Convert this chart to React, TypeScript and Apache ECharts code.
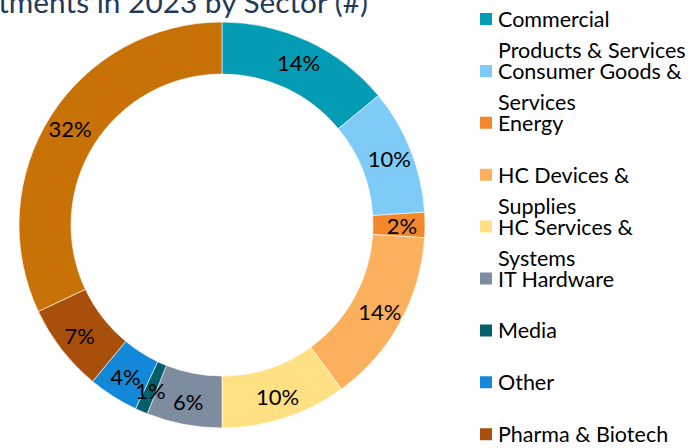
import React, { useEffect, useRef } from "react";
import * as echarts from "echarts";

const titleText = "Investments in 2023 by Sector (#)";
const categories = [
  "Commercial\nProducts & Services",
  "Consumer Goods &\nServices",
  "Energy",
  "HC Devices &\nSupplies",
  "HC Services &\nSystems",
  "IT Hardware",
  "Media",
  "Other",
  "Pharma & Biotech",
  "Software",
];
const values = [14, 10, 2, 14, 10, 6, 1, 4, 7, 32];
const colors = [
  "#049BB4",
  "#7ECBF7",
  "#F2882B",
  "#FBB05E",
  "#FFE184",
  "#7E8CA0",
  "#045F6A",
  "#1488D8",
  "#A8500B",
  "#C87106",
];

const FONT = "Lato, 'Liberation Sans', sans-serif";

export default function App() {
  const ref = useRef<HTMLDivElement>(null);
  useEffect(() => {
    if (!ref.current) return;
    const chart = echarts.init(ref.current, null, { renderer: "svg" });
    const lh = 31;
    chart.setOption({
      animation: false,
      backgroundColor: "#ffffff",
      graphic: [
        {
          type: "text",
          style: {
            text: titleText,
            x: 368,
            y: 16,
            align: "right",
            verticalAlign: "bottom",
            font: `29.8px ${FONT}`,
            fill: "#1F3A5C",
          },
        },
      ],
      legend: {
        orient: "vertical",
        left: 478,
        top: 19 - (3 * lh) / 2,
        height: 2000,
        padding: 0,
        itemGap: 51.9 - 3 * lh,
        itemWidth: 14,
        itemHeight: 14,
        icon: "rect",
        selectedMode: false,
        data: categories,
        formatter: (name: string) => {
          const parts = name.split("\n");
          return ` \n${parts[0]}\n${parts[1] || " "}`;
        },
        textStyle: {
          fontFamily: FONT,
          fontSize: 21.5,
          lineHeight: lh,
          color: "#000000",
        },
      },
      series: [
        {
          type: "pie",
          center: [222, 225],
          radius: [151, 203],
          startAngle: 90,
          clockwise: true,
          avoidLabelOverlap: false,
          minShowLabelAngle: 0,
          labelLayout: { hideOverlap: false },
          itemStyle: { borderColor: "#ffffff", borderWidth: 0.6 },
          label: {
            show: true,
            position: "inside",
            formatter: (p: any) => `${p.value}%`,
            fontFamily: FONT,
            fontSize: 22,
            color: "#000000",
          },
          labelLine: { show: false },
          emphasis: { disabled: true },
          data: categories.map((c, i) => ({
            name: c,
            value: values[i],
            itemStyle: { color: colors[i] },
          })),
        },
      ],
    });
    return () => chart.dispose();
  }, []);
  return (
    <div
      ref={ref}
      style={{ position: "fixed", left: 0, top: 0, width: 696, height: 448 }}
    />
  );
}
